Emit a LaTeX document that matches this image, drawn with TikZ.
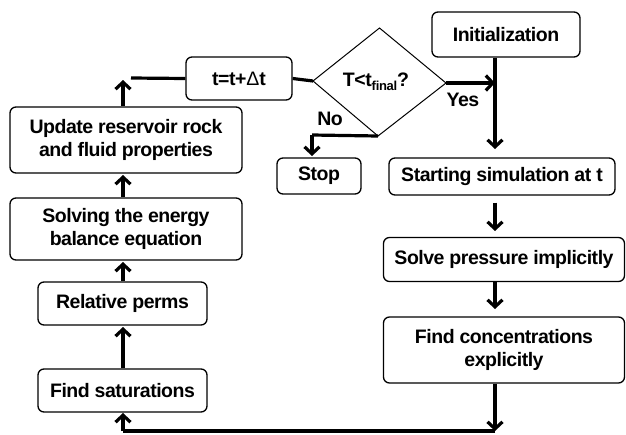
\documentclass[tikz,border=0pt]{standalone}
\usepackage{fontspec}
\setmainfont{Liberation Sans}[LetterSpace=-2.5]
\usetikzlibrary{arrows.meta}
\tikzset{
  txt/.style={font=\fontsize{19.5}{23.5}\selectfont\bfseries, align=center, inner sep=0pt},
  boxnode/.style={txt, draw, line width=1.3pt, rounded corners=6pt},
  conn/.style={line width=3.2pt},
  arr/.style={conn, -{Straight Barb[length=7pt,width=15pt,line width=3.2pt]}},
}
\begin{document}
\begin{tikzpicture}[x=1pt,y=-1pt]
\useasboundingbox (0,0) rectangle (626,434);
% nodes
\node[boxnode, minimum width=148pt, minimum height=45pt] (init) at (506,34.5) {Initialization};
\node[boxnode, minimum width=226pt, minimum height=37pt] (start) at (502,176.5) {Starting simulation at t};
\node[boxnode, minimum width=241pt, minimum height=44pt] (solve) at (504,259.5) {Solve pressure implicitly};
\node[boxnode, minimum width=241pt, minimum height=66pt] (conc) at (504,350) {Find concentrations\\explicitly};
\node[boxnode, minimum width=84pt, minimum height=36pt] (stop) at (319,176) {Stop};
\path[draw, line width=1pt] (313,81) coordinate (dw) -- (379.5,28) coordinate (dn) -- (446,83) coordinate (de) -- (378,136) coordinate (ds) -- cycle;
\node[txt] (cond) at (376,82) {T<t\raisebox{-0.4ex}{\fontsize{13}{13}\selectfont final}?};
\node[boxnode, minimum width=106pt, minimum height=43pt] (tstep) at (239,78.5) {t=t+{\mdseries Δ}t};
\node[boxnode, minimum width=232pt, minimum height=66pt] (update) at (126,140) {Update reservoir rock\\and fluid properties};
\node[boxnode, minimum width=232pt, minimum height=62pt] (energy) at (126,229) {Solving the energy\\balance equation};
\node[boxnode, minimum width=169pt, minimum height=43pt] (relp) at (122.5,303.5) {Relative perms};
\node[boxnode, minimum width=169pt, minimum height=43pt] (fsat) at (122.5,390.5) {Find saturations};
\node[txt] (yes) at (463,100) {Yes};
\node[txt] (no) at (330,119) {No};
% coordinates
\coordinate (tl) at (131,78);
\coordinate (tup) at (123,80);
\coordinate (yj) at (495,83);
\coordinate (nj) at (312,135);
\coordinate (bl) at (123,431);
\coordinate (br) at (495,431);
% connectors
\draw[conn] (tstep.west) -- (tl);
\draw[arr] (update.north -| tup) -- (tup);
\draw[conn] (tstep.east) -- (dw);
\draw[arr] (de) -- (yj);
\draw[arr] (init.south -| yj) -- (495,149);
\draw[conn] (ds) -- (nj);
\draw[arr] (nj) -- (312,156);
\draw[arr] ([yshift=-7pt]start.south -| yj) -- (495,231);
\draw[arr] (solve.south -| yj) -- (495,309);
\draw[arr] (conc.south -| yj) -- (br);
\draw[conn] (br) -- (bl);
\draw[arr] (bl) -- (123,413);
\draw[arr] (fsat.north -| bl) -- (123,327);
\draw[arr] (relp.north -| bl) -- (123,262);
\draw[arr] (energy.north -| bl) -- (123,175);
\end{tikzpicture}
\end{document}
